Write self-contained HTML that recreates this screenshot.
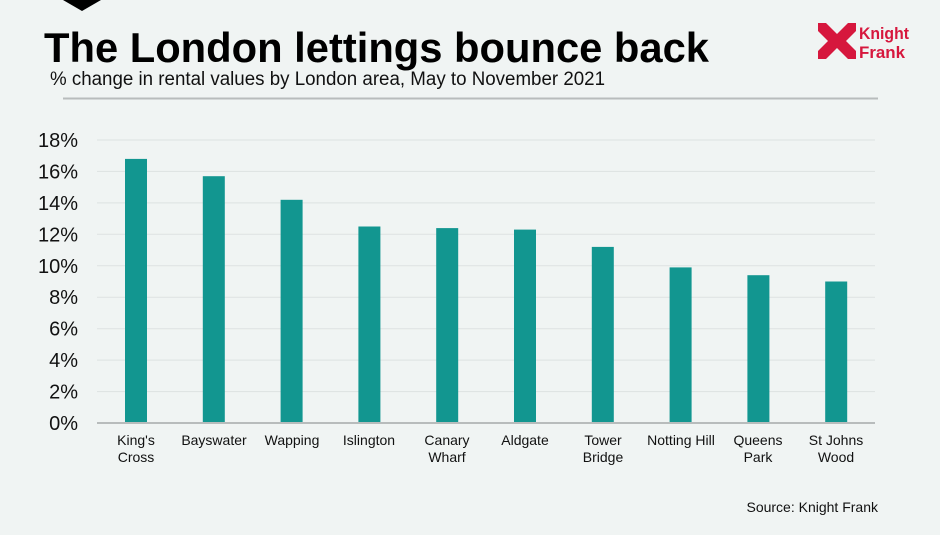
<!DOCTYPE html>
<html><head><meta charset="utf-8"><style>
body{margin:0;width:942px;height:539px;background:#fff;overflow:hidden;font-family:"Liberation Sans",sans-serif}
#c{position:absolute;left:0;top:0;width:940px;height:535px;background:#f0f4f3}
</style></head><body><div id="c">
<svg width="942" height="539" style="position:absolute;left:0;top:0" font-family="Liberation Sans, sans-serif">
<polygon points="63,0 101,0 82,11" fill="#000"/>
<text x="44" y="62" font-size="42" font-weight="bold" fill="#000" textLength="665" lengthAdjust="spacingAndGlyphs">The London lettings bounce back</text>
<text x="50" y="85" font-size="19" fill="#111" textLength="555" lengthAdjust="spacingAndGlyphs">% change in rental values by London area, May to November 2021</text>
<line x1="63" y1="98.5" x2="878" y2="98.5" stroke="#b8bcbc" stroke-width="2"/>
<rect x="818" y="23" width="38" height="36" fill="#d6173d"/>
<g fill="#f0f4f3">
<polygon points="826,23 848,23 837,34"/><polygon points="826,59 848,59 837,48"/>
<polygon points="818,31 818,51 828,41"/><polygon points="856,31 856,51 846,41"/>
</g>
<text x="859" y="39" font-size="17" font-weight="bold" fill="#d6173d" textLength="50" lengthAdjust="spacingAndGlyphs">Knight</text>
<text x="859" y="58" font-size="17" font-weight="bold" fill="#d6173d" textLength="46" lengthAdjust="spacingAndGlyphs">Frank</text>
<g stroke="#dde2e1" stroke-width="1">
<line x1="97" y1="140" x2="875" y2="140"/><line x1="97" y1="171.4" x2="875" y2="171.4"/>
<line x1="97" y1="202.9" x2="875" y2="202.9"/><line x1="97" y1="234.3" x2="875" y2="234.3"/>
<line x1="97" y1="265.8" x2="875" y2="265.8"/><line x1="97" y1="297.2" x2="875" y2="297.2"/>
<line x1="97" y1="328.7" x2="875" y2="328.7"/><line x1="97" y1="360.1" x2="875" y2="360.1"/>
<line x1="97" y1="391.6" x2="875" y2="391.6"/>
</g>
<g font-size="20" fill="#111" text-anchor="end">
<text x="78" y="147">18%</text><text x="78" y="178.4">16%</text><text x="78" y="209.9">14%</text>
<text x="78" y="241.3">12%</text><text x="78" y="272.8">10%</text><text x="78" y="304.2">8%</text>
<text x="78" y="335.7">6%</text><text x="78" y="367.1">4%</text><text x="78" y="398.6">2%</text><text x="78" y="430">0%</text>
</g>
<g fill="#129690">
<rect x="125" y="158.9" width="22" height="264.1"/>
<rect x="202.8" y="176.2" width="22" height="246.8"/>
<rect x="280.6" y="199.8" width="22" height="223.2"/>
<rect x="358.4" y="226.5" width="22" height="196.5"/>
<rect x="436.2" y="228.1" width="22" height="194.9"/>
<rect x="514" y="229.6" width="22" height="193.4"/>
<rect x="591.8" y="246.9" width="22" height="176.1"/>
<rect x="669.6" y="267.4" width="22" height="155.6"/>
<rect x="747.4" y="275.2" width="22" height="147.8"/>
<rect x="825.2" y="281.5" width="22" height="141.5"/>
</g>
<line x1="97" y1="423" x2="875" y2="423" stroke="#b8bcbc" stroke-width="2"/>
<g font-size="14" fill="#111" text-anchor="middle">
<text x="136" y="445">King's</text><text x="136" y="462">Cross</text>
<text x="214" y="445">Bayswater</text>
<text x="292" y="445">Wapping</text>
<text x="369" y="445">Islington</text>
<text x="447" y="445">Canary</text><text x="447" y="462">Wharf</text>
<text x="525" y="445">Aldgate</text>
<text x="603" y="445">Tower</text><text x="603" y="462">Bridge</text>
<text x="681" y="445">Notting Hill</text>
<text x="758" y="445">Queens</text><text x="758" y="462">Park</text>
<text x="836" y="445">St Johns</text><text x="836" y="462">Wood</text>
</g>
<text x="878" y="512" font-size="14" fill="#111" text-anchor="end">Source: Knight Frank</text>
</svg></div></body></html>
